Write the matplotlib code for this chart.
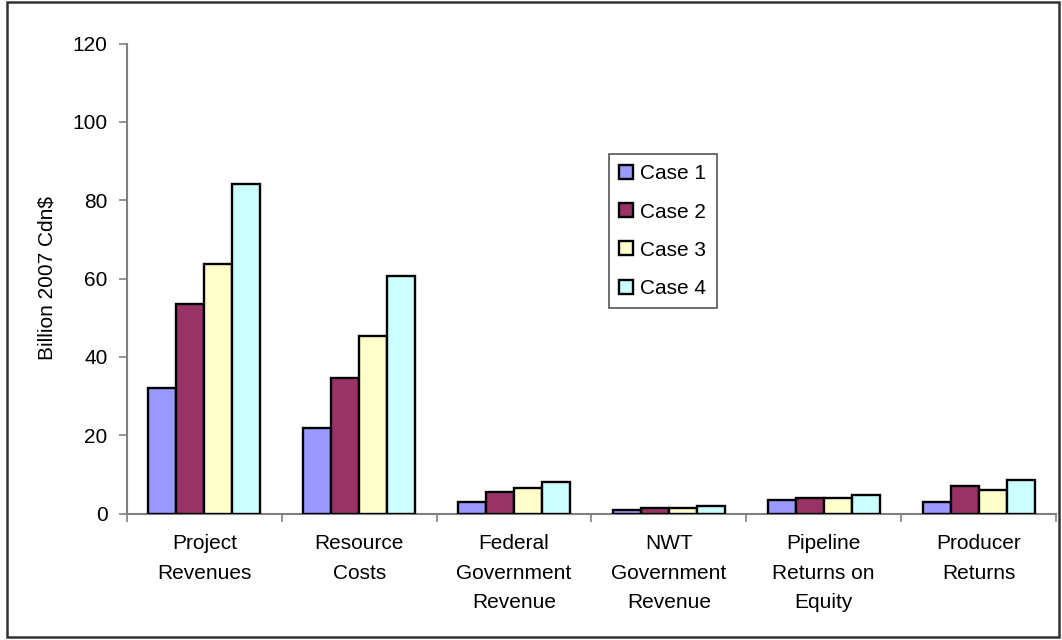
import numpy as np
import matplotlib
matplotlib.use("Agg")
import matplotlib.pyplot as plt
from matplotlib.patches import Rectangle

plt.rcParams['font.family'] = ['Liberation Sans', 'DejaVu Sans']

categories = [
    "Project\nRevenues",
    "Resource\nCosts",
    "Federal\nGovernment\nRevenue",
    "NWT\nGovernment\nRevenue",
    "Pipeline\nReturns on\nEquity",
    "Producer\nReturns",
]
series_names = ["Case 1", "Case 2", "Case 3", "Case 4"]
case1 = [32.0, 21.9, 2.9, 0.9, 3.5, 2.9]
case2 = [53.5, 34.6, 5.5, 1.4, 4.0, 7.0]
case3 = [63.7, 45.4, 6.5, 1.4, 4.0, 6.0]
case4 = [84.1, 60.7, 8.0, 2.0, 4.6, 8.5]
series = [case1, case2, case3, case4]
colors = ["#9999FF", "#993366", "#FFFFCC", "#CCFFFF"]
y_ticks = [0, 20, 40, 60, 80, 100, 120]

W, H = 1062, 640
fig = plt.figure(figsize=(W / 100, H / 100), dpi=100)
ax = fig.add_axes([127 / W, 1 - 513.5 / H, (1056 - 127) / W, (513.5 - 43.5) / H])

n = len(categories)
x = np.arange(n)
bw = 0.181
offsets = (np.arange(len(series)) - (len(series) - 1) / 2) * bw
for vals, off, col, name in zip(series, offsets, colors, series_names):
    ax.bar(x + off, vals, width=bw, color=col, edgecolor="black",
           linewidth=1.7, label=name, zorder=3)

ax.set_xlim(-0.5, n - 0.5)
ax.set_ylim(0, 120)
ax.set_yticks(y_ticks)
ax.set_yticklabels([str(t) for t in y_ticks], fontsize=15)
ax.set_xticks(x)
ax.set_xticklabels(categories, fontsize=15, linespacing=1.7)
ax.set_xticks(np.arange(n + 1) - 0.5, minor=True)

ax.tick_params(axis="x", which="major", length=0, pad=15)
ax.tick_params(axis="x", which="minor", length=6, width=1.2, color="#808080")
ax.tick_params(axis="y", length=6, width=1.2, color="#808080", pad=8)

for s in ["top", "right"]:
    ax.spines[s].set_visible(False)
for s in ["left", "bottom"]:
    ax.spines[s].set_color("#808080")
    ax.spines[s].set_linewidth(1.5)

ax.set_ylabel("Billion 2007 Cdn$", fontsize=15)
ax.yaxis.set_label_coords((57 - 127) / (1056 - 127), 0.5)

leg = ax.legend(loc="upper left",
                bbox_to_anchor=(609 / W, 1 - 154 / H),
                bbox_transform=fig.transFigure,
                fontsize=15, frameon=True, fancybox=False, framealpha=1,
                edgecolor="#555555", handlelength=0.65, handleheight=0.65,
                handletextpad=0.35, labelspacing=0.92, borderpad=0.5,
                borderaxespad=0)
leg.get_frame().set_linewidth(1.2)

# outer border around the figure
fig.patches.append(Rectangle((7 / W, 1 - 637 / H), (1059 - 7) / W, (637 - 2) / H,
                             transform=fig.transFigure, fill=False,
                             edgecolor="#333333", linewidth=1.8))

fig.savefig("out.png", dpi=100)
